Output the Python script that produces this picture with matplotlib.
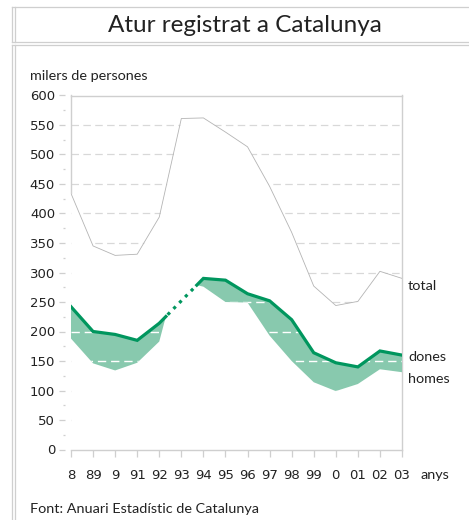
import numpy as np
import matplotlib
matplotlib.use("Agg")
import matplotlib.pyplot as plt
from matplotlib.lines import Line2D
from matplotlib.ticker import MultipleLocator

plt.rcParams['font.family'] = ['Lato', 'DejaVu Sans']

# atur registrat (milers de persones)
anys = np.arange(1988, 2004).astype(float)
etiquetes_anys = ['8', '89', '9', '91', '92', '93', '94', '95', '96', '97',
                  '98', '99', '0', '01', '02', '03']
total = np.array([434, 345, 329, 331, 394, 561, 562, 538, 513, 446, 368, 277,
                  244, 251, 302, 290], dtype=float)
dones = np.array([242, 200, 195, 185, 214, np.nan, 290, 287, 264, 252, 220, 164,
                  147, 140, 167, 160], dtype=float)
homes = np.array([188, 146, 134, 147, 183, np.nan, 276, 250, 249, 193, 150, 114,
                  99, 111, 136, 131], dtype=float)

verd = '#00965e'
verd_clar = '#88c9ae'
gris = '#b4b4b4'
gris_graella = '#d8d8d8'
gris_marc = '#cfcfcf'
negre = '#222222'
xifres = ['DejaVu Sans']

W, H = 469, 520
fig = plt.figure(figsize=(W / 100, H / 100), dpi=100)
ax = fig.add_axes([71 / W, 1 - 449.5 / H, 331 / W, 354 / H])
ax.set_xlim(anys[0], anys[-1])
ax.set_ylim(0, 600)

nivells = np.arange(50, 600, 50)
estil_ratlla = (0, (6, 3.5))

# graella grisa per sobre del total
for v in nivells:
    ax.axhline(v, color=gris_graella, lw=0.9, ls=estil_ratlla, zorder=1)
ax.fill_between(anys, 0, total, color='white', lw=0, zorder=2)

# franja entre dones i homes, amb l'any 93 sense desglossar
tram = 0.3
pend = (dones[6] - dones[4]) / 2
x1 = anys[4] + tram
y1 = dones[4] + tram * pend
x2 = anys[6] - tram
y2 = dones[6] - tram * pend
xa = np.concatenate([anys[:5], [x1], anys[:5][::-1]])
ya = np.concatenate([dones[:5], [y1], homes[:5][::-1]])
xb = np.concatenate([[x2], anys[6:], anys[6:][::-1]])
yb = np.concatenate([[y2], dones[6:], homes[6:][::-1]])
franges = ax.fill(xa, ya, color=verd_clar, lw=0, zorder=3) + \
    ax.fill(xb, yb, color=verd_clar, lw=0, zorder=3)

# graella blanca dins la franja
for p in franges:
    for v in nivells:
        l = ax.axhline(v, color='white', lw=1.0, ls=estil_ratlla, zorder=4)
        l.set_clip_path(p)

ax.plot(anys, total, color=gris, lw=0.6, zorder=5)
ax.plot([anys[0], anys[0]], [total[0], 600], color=gris_marc, lw=1.0,
        zorder=5, clip_on=False)

ax.plot(np.append(anys[:5], x1), np.append(dones[:5], y1), color=verd, lw=2.3,
        solid_joinstyle='miter', zorder=6)
ax.plot(np.insert(anys[6:], 0, x2), np.insert(dones[6:], 0, y2), color=verd,
        lw=2.3, solid_joinstyle='miter', zorder=6)
ax.plot([x1 + 0.08, x2 - 0.08], [y1 + 0.08 * pend, y2 - 0.08 * pend], color=verd,
        lw=2.3, ls=(0, (1, 1.6)), dash_capstyle='butt', zorder=6)

# eixos
for s in ['top', 'right', 'bottom']:
    ax.spines[s].set_color(gris_marc)
    ax.spines[s].set_linewidth(1.0)
ax.spines['left'].set_visible(False)
ax.spines['left'].set_position(('outward', 4))

ax.yaxis.set_major_locator(MultipleLocator(50))
ax.yaxis.set_minor_locator(MultipleLocator(25))
ax.tick_params(axis='y', which='major', length=4, width=0.9, color=gris_marc,
               labelsize=9.5, labelcolor=negre, pad=3.5)
ax.tick_params(axis='y', which='minor', length=1.8, width=0.9, color=gris_marc)
ax.set_xticks(anys)
ax.set_xticklabels(etiquetes_anys)
ax.tick_params(axis='x', length=5, width=0.9, color=gris_marc, labelsize=9.5,
               labelcolor=negre, pad=9)
for t in ax.get_xticklabels() + ax.get_yticklabels():
    t.set_family(xifres)

ax.annotate('total', xy=(anys[-1], total[-1]), xytext=(6, -8),
            textcoords='offset pixels', va='center', ha='left', fontsize=10.4,
            color=negre, annotation_clip=False)
ax.annotate('dones', xy=(anys[-1], dones[-1]), xytext=(6, -2),
            textcoords='offset pixels', va='center', ha='left', fontsize=10.4,
            color=negre, annotation_clip=False)
ax.annotate('homes', xy=(anys[-1], homes[-1]), xytext=(6, -7),
            textcoords='offset pixels', va='center', ha='left', fontsize=10.4,
            color=negre, annotation_clip=False)

fig.text(420 / W, 1 - 475 / H, 'anys', fontsize=10.4, color=negre, va='center')
fig.text(30 / W, 1 - 76 / H, 'milers de persones', fontsize=10.4, color=negre,
         va='center')
fig.text(30 / W, 1 - 509 / H, 'Font: Anuari Estadístic de Catalunya',
         fontsize=10.4, color=negre, va='center')
fig.text(245 / W, 1 - 26 / H, 'Atur registrat a Catalunya', fontsize=17.5,
         color=negre, ha='center', va='center')

# marcs del títol i del gràfic
def linia(x0, y0, x1, y1):
    fig.add_artist(Line2D([x0 / W, x1 / W], [1 - y0 / H, 1 - y1 / H],
                          color=gris_marc, lw=0.9))

linia(12, 7, W, 7)
linia(12, 42, W, 42)
linia(12, 7, 12, 42)
linia(14.5, 7, 14.5, 42)
linia(12, 45, W, 45)
linia(12, 45, 12, H)
linia(14.5, 45, 14.5, H)

fig.savefig('out.png', dpi=100)
